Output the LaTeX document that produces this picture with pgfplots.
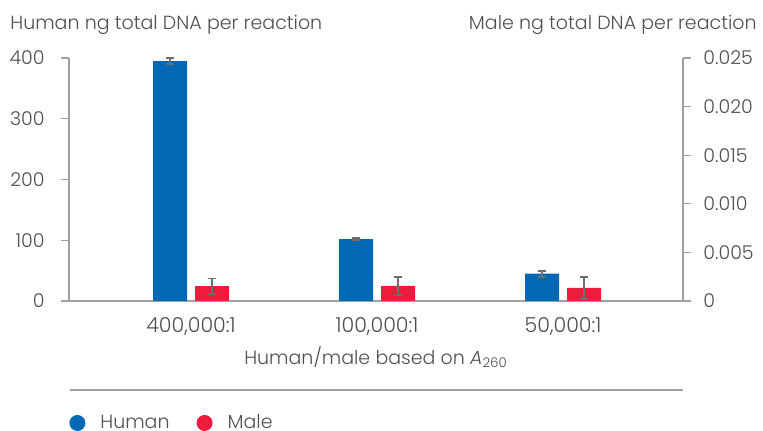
\documentclass[border=0pt]{standalone}
\usepackage{pgfplots}
\pgfplotsset{compat=1.18}
\usepackage{fontspec}
\setmainfont{Poppins Light}
\definecolor{hblue}{RGB}{0,104,180}
\definecolor{mred}{RGB}{237,27,60}
\definecolor{txt}{RGB}{80,80,80}
\definecolor{axl}{RGB}{160,160,160}
\definecolor{err}{RGB}{110,110,110}
\begin{document}
\begin{tikzpicture}[font=\fontsize{9.5}{11}\selectfont, text=txt]
\useasboundingbox (-34.5pt,-65pt) rectangle (347pt,150.5pt);
\pgfplotsset{
  base/.style={
    scale only axis, width=307pt, height=121.5pt,
    at={(0,0)}, anchor=south west,
    xmin=-0.656, xmax=2.645,
    xtick={0,1,2},
    axis line style={draw=axl, line width=0.8pt},
    tick style={draw=axl, line width=0.6pt},
    major tick length=4pt, tick align=outside,
    scaled y ticks=false,
    every tick label/.append style={text=txt, font=\fontsize{9.5}{11}\selectfont},
  },
  errs/.style={error bars/.cd, y dir=both, y explicit,
    error bar style={draw=err, line width=0.9pt},
    error mark options={draw=err, rotate=90, mark size=2.1pt, line width=0.9pt}},
}
\begin{axis}[base,
  axis x line*=bottom, axis y line*=left,
  ymin=0, ymax=400, ytick={0,100,200,300,400},
  yticklabels={0,100,200,300,400},
  yticklabel style={anchor=east, inner sep=0pt, xshift=-8pt},
  xticklabels={400{,}000:1,100{,}000:1,50{,}000:1},
  xticklabel style={anchor=center, yshift=-9pt, font=\fontsize{10.3}{12}\selectfont},
  major x tick style={draw=none},
  xlabel={Human/male based on {\itshape A}\textsubscript{260}},
  xlabel style={at={(axis description cs:0.5,0)}, anchor=center, yshift=-28pt, text=txt},
  legend style={draw=none, fill=none, at={(axis description cs:0,-0.502)}, anchor=west,
    legend columns=-1, inner sep=0pt, font=\fontsize{9.5}{11}\selectfont, text=txt,
    nodes={inner sep=0pt},
    /tikz/every odd column/.append style={column sep=7.5pt},
    /tikz/every even column/.append style={column sep=13.5pt}},
  legend image code/.code={\fill[#1] (4pt,0) circle (4pt);},
]
\addplot[ybar, bar width=17pt, bar shift=0pt, fill=hblue, draw=none, errs]
  coordinates {(-0.113,395) +- (0,5) (0.887,102) +- (0,2) (1.887,45) +- (0,5)};
\addlegendentry{Human}
\addlegendimage{fill=mred, draw=none}
\addlegendentry{Male}
\end{axis}
\begin{axis}[base,
  axis x line=none, axis y line*=right,
  ymin=0, ymax=0.025, ytick={0,0.005,0.010,0.015,0.020,0.025},
  yticklabels={0,0.005,0.010,0.015,0.020,0.025},
  yticklabel style={anchor=west, inner sep=0pt, xshift=6pt},
]
\addplot[ybar, bar width=17pt, bar shift=0pt, fill=mred, draw=none, errs]
  coordinates {(0.113,0.00154) +- (0,0.00078) (1.113,0.00155) +- (0,0.00095) (2.113,0.00135) +- (0,0.00113)};
\end{axis}
\node[anchor=west, inner sep=0pt] at (-29.5pt,138pt) {Human ng total DNA per reaction};
\node[anchor=east, inner sep=0pt] at (344pt,138pt) {Male ng total DNA per reaction};
\draw[axl, line width=0.8pt] (0.5pt,-44.5pt) -- (307pt,-44.5pt);
\end{tikzpicture}
\end{document}
